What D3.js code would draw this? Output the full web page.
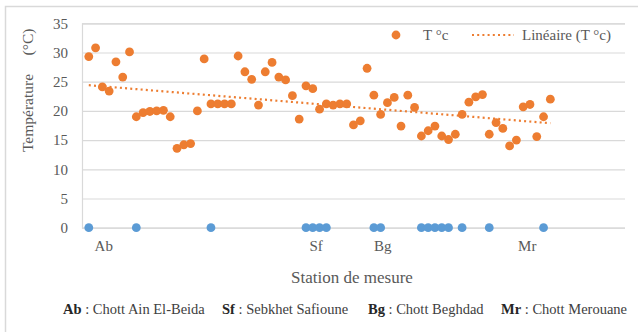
<!DOCTYPE html>
<html>
<head>
<meta charset="utf-8">
<script src="https://cdn.jsdelivr.net/npm/d3@7"></script>
<style>
  html, body { margin: 0; padding: 0; background: #ffffff; }
  svg { display: block; }
</style>
</head>
<body>
<svg id="chart" width="638" height="332" font-family="Liberation Serif, DejaVu Serif, serif"></svg>
<script>
// ---- data ----
const tempValues = [
  29.3, 30.8, 24.1, 23.4, 28.4, 25.8, 30.1, 19.0, 19.7, 19.9,
  20.0, 20.1, 19.0, 13.6, 14.2, 14.4, 20.0, 28.9, 21.2, 21.2,
  21.2, 21.2, 29.4, 26.7, 25.4, 21.0, 26.7, 28.3, 25.8, 25.3,
  22.6, 18.6, 24.3, 23.8, 20.3, 21.2, 21.0, 21.2, 21.2, 17.6,
  18.3, 27.3, 22.7, 19.4, 21.4, 22.3, 17.4, 22.7, 20.6, 15.7,
  16.6, 17.4, 15.7, 15.1, 16.0, 19.4, 21.5, 22.4, 22.8, 16.0,
  18.0, 17.0, 14.0, 15.0, 20.7, 21.1, 15.6, 19.0, 22.0
];
const stationX = [1, 8, 19, 33, 34, 35, 36, 43, 44, 50, 51, 52, 53, 54, 56, 60, 68];
const stationY = stationX.map(() => 0);
const stationLabels = ["Ab", "Sf", "Bg", "Mr"];
const stationLabelX = [3.2, 34.5, 44.3, 65.6];
const yTicks = [0, 5, 10, 15, 20, 25, 30, 35];
const xDomain = [0, 80];
const footerAbbr = ["Ab", "Sf", "Bg", "Mr"];
const footerNames = [" : Chott Ain El-Beida", " : Sebkhet Safioune", " : Chott Beghdad", " : Chott Merouane"];
const legendLabels = ["T °c", "Linéaire (T °c)"];
const yTitleParts = ["Température", "(°C)"];

// ---- layout ----
const FONT = "Liberation Serif, DejaVu Serif, serif";
const svg = d3.select("#chart");
const orange = "#ED7D31", blue = "#5B9BD5", grid = "#D9D9D9", txt = "#595959";
const plot = { left: 82, right: 625, top: 23.3, bottom: 227.7 };

const x = d3.scaleLinear().domain(xDomain).range([plot.left, plot.right]);
const y = d3.scaleLinear().domain([0, 35]).range([plot.bottom, plot.top]);

function label(sel, size) {
  return sel.style("font-family", FONT).style("font-size", size + "px").attr("fill", txt);
}

// chart border
svg.append("rect").attr("x", 5.5).attr("y", 6.5).attr("width", 640).attr("height", 340)
  .attr("fill", "none").attr("stroke", grid).attr("stroke-width", 1.5);

// gridlines + y axis
const yAxis = d3.axisLeft(y).tickValues(yTicks).tickSize(-(plot.right - plot.left)).tickPadding(14);
const gy = svg.append("g").attr("transform", `translate(${plot.left},0)`).call(yAxis);
gy.attr("font-family", FONT);
gy.select(".domain").attr("stroke", grid).attr("stroke-width", 1.2);
gy.selectAll(".tick line").attr("stroke", grid).attr("stroke-width", 1.2);
label(gy.selectAll(".tick text"), 15);

// trendline (linear regression of temperature series)
const xs = tempValues.map((_, i) => i + 1);
const n = xs.length;
const mx = d3.mean(xs), my = d3.mean(tempValues);
const slope = d3.sum(xs, (xi, i) => (xi - mx) * (tempValues[i] - my)) / d3.sum(xs, xi => (xi - mx) ** 2);
const intercept = my - slope * mx;
const trendX = [xs[0], xs[n - 1]];
svg.append("path")
  .attr("d", d3.line().x(d => x(d)).y(d => y(intercept + slope * d))(trendX))
  .attr("stroke", orange).attr("stroke-width", 2.2).attr("stroke-dasharray", "2,3.2").attr("fill", "none");

// blue station points
svg.append("g").selectAll("circle").data(stationX).join("circle")
  .attr("cx", d => x(d)).attr("cy", (d, i) => y(stationY[i])).attr("r", 4.4).attr("fill", blue);

// orange temperature points
svg.append("g").selectAll("circle").data(tempValues).join("circle")
  .attr("cx", (d, i) => x(i + 1)).attr("cy", d => y(d)).attr("r", 4.4).attr("fill", orange);

// station labels under axis
label(svg.append("g").selectAll("text").data(stationLabels).join("text")
  .attr("x", (d, i) => x(stationLabelX[i])).attr("y", 251)
  .attr("text-anchor", "middle"), 15).text(d => d);

// axis titles
label(svg.append("text").attr("x", 352).attr("y", 283).attr("text-anchor", "middle"), 17)
  .text("Station de mesure");
const yTitleCenters = [113, 42];
yTitleParts.forEach((s, i) => {
  label(svg.append("text").attr("transform", `translate(33,${yTitleCenters[i]}) rotate(-90)`)
    .attr("text-anchor", "middle"), 15.5).text(s);
});

// legend
svg.append("circle").attr("cx", 396).attr("cy", 35).attr("r", 4.4).attr("fill", orange);
label(svg.append("text").attr("x", 423).attr("y", 40), 15).text(legendLabels[0]);
svg.append("line").attr("x1", 472).attr("x2", 514).attr("y1", 35).attr("y2", 35)
  .attr("stroke", orange).attr("stroke-width", 2.2).attr("stroke-dasharray", "2,3.2");
label(svg.append("text").attr("x", 522).attr("y", 40), 15).text(legendLabels[1]);

// footer
const footerX = [63, 222, 368, 501];
footerAbbr.forEach((a, i) => {
  const t = label(svg.append("text").attr("x", footerX[i]).attr("y", 314)
    .attr("xml:space", "preserve").style("white-space", "pre"), 14.5);
  t.append("tspan").style("font-weight", "bold").attr("fill", "#262626").text(a);
  t.append("tspan").attr("fill", "#404040").text(footerNames[i]);
});
</script>
</body>
</html>
